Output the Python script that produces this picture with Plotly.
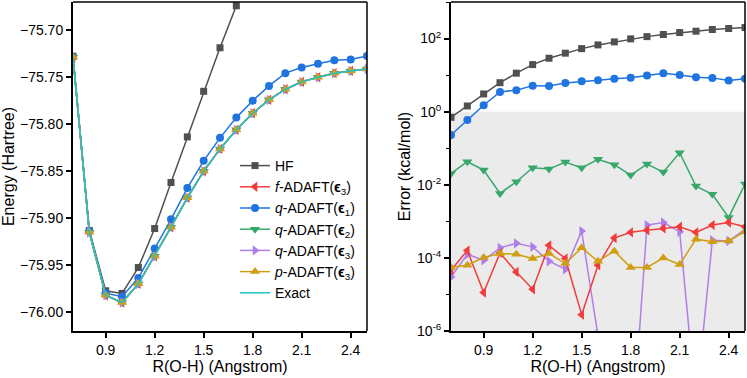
import plotly.graph_objects as go

# ---------------- data ----------------
R = [0.7, 0.8, 0.9, 1.0, 1.1, 1.2, 1.3, 1.4, 1.5, 1.6, 1.7, 1.8, 1.9, 2.0, 2.1, 2.2, 2.3, 2.4, 2.5]
R_hf = [0.7, 0.8, 0.9, 1.0, 1.1, 1.2, 1.3, 1.4, 1.5, 1.6, 1.7]

# Energies (Hartree), left panel
E_hf = [-75.7278, -75.9130, -75.9772, -75.9800, -75.9525, -75.9110, -75.8620, -75.8135, -75.7650, -75.7187, -75.6740]
E_f3 = [-75.7287, -75.9150, -75.9820, -75.9898, -75.9698, -75.9404, -75.9096, -75.8783, -75.8500, -75.8263,
        -75.8060, -75.7883, -75.7741, -75.7628, -75.7550, -75.7500, -75.7457, -75.7433, -75.7412]
E_q1 = [-75.7283, -75.9140, -75.9797, -75.9835, -75.9636, -75.9322, -75.9012, -75.8680, -75.8390, -75.8145,
        -75.7930, -75.7750, -75.7593, -75.7457, -75.7397, -75.7357, -75.7320, -75.7312, -75.7275]
E_q2 = [-75.7287, -75.9150, -75.9820, -75.9898, -75.9698, -75.9404, -75.9096, -75.8783, -75.8500, -75.8263,
        -75.8060, -75.7883, -75.7741, -75.7628, -75.7550, -75.7500, -75.7457, -75.7433, -75.7412]
E_q3 = [-75.7287, -75.9150, -75.9820, -75.9898, -75.9698, -75.9404, -75.9096, -75.8783, -75.8500, -75.8263,
        -75.8060, -75.7883, -75.7741, -75.7628, -75.7550, -75.7500, -75.7457, -75.7433, -75.7412]
E_p3 = [-75.7287, -75.9150, -75.9820, -75.9898, -75.9698, -75.9404, -75.9096, -75.8783, -75.8500, -75.8263,
        -75.8060, -75.7883, -75.7741, -75.7628, -75.7550, -75.7500, -75.7457, -75.7433, -75.7412]
E_exact = [-75.7287, -75.9150, -75.9820, -75.9898, -75.9698, -75.9404, -75.9096, -75.8783, -75.8500, -75.8263,
           -75.8060, -75.7883, -75.7741, -75.7628, -75.7550, -75.7500, -75.7457, -75.7433, -75.7412]

# Errors (kcal/mol), right panel
err_hf = [0.70, 1.43, 3.05, 6.2, 11.3, 19.4, 29.0, 39.8, 53.0, 67.0, 81.0, 98.0, 113.0, 129.0, 146.0, 159.0, 177.0, 188.0, 200.0]
err_q1 = [0.23, 0.59, 1.5, 3.47, 3.86, 5.15, 5.06, 6.1, 6.8, 7.25, 7.9, 8.5, 9.7, 11.3, 10.1, 8.7, 8.4, 7.1, 8.0]
err_q2 = [0.0205, 0.0427, 0.0253, 0.0058, 0.0121, 0.0292, 0.0269, 0.042, 0.029, 0.0497, 0.0354, 0.0184, 0.0369,
          0.0223, 0.075, 0.0092, 0.0055, 0.00128, 0.0105]
err_f3 = [4.6e-5, 1.6e-4, 1.13e-5, 1.37e-4, 4.1e-5, 1.39e-5, 2.2e-4, 9.6e-5, 2.8e-6, 6.3e-5, 3.5e-4, 5.0e-4,
          5.7e-4, 6.4e-4, 7.1e-4, 5.0e-4, 7.9e-4, 9.3e-4, 7.1e-4]
err_q3 = [3.0e-5, 1.26e-4, 8.6e-5, 1.88e-4, 2.5e-4, 2.0e-4, 8.1e-5, 4.9e-5, 5.4e-4, 8.0e-7, 1.0e-9, 4.0e-10,
          7.9e-4, 9.3e-4, 5.2e-4, 1.0e-8, 3.05e-4, 2.9e-4, 6.0e-4]
err_p3 = [5.5e-5, 6.3e-5, 1.02e-4, 1.32e-4, 1.26e-4, 9.6e-5, 1.32e-4, 7.0e-5, 1.88e-4, 8.1e-5, 1.53e-4, 5.5e-5,
          5.5e-5, 1.0e-4, 6.6e-5, 3.25e-4, 2.75e-4, 2.9e-4, 5.2e-4]

x_ticks = [0.9, 1.2, 1.5, 1.8, 2.1, 2.4]
e_ticks = [-75.70, -75.75, -75.80, -75.85, -75.90, -75.95, -76.00]
err_tickvals = [1e2, 1e0, 1e-2, 1e-4, 1e-6]
err_ticktext = ["10<sup>2</sup>", "10<sup>0</sup>", "10<sup>-2</sup>", "10<sup>-4</sup>", "10<sup>-6</sup>"]
err_minor = [1e3, 1e1, 1e-1, 1e-3, 1e-5]

names = ["HF", "<i>f</i>-ADAFT(<b>ϵ</b><sub>3</sub>)", "<i>q</i>-ADAFT(<b>ϵ</b><sub>1</sub>)",
         "<i>q</i>-ADAFT(<b>ϵ</b><sub>2</sub>)", "<i>q</i>-ADAFT(<b>ϵ</b><sub>3</sub>)",
         "<i>p</i>-ADAFT(<b>ϵ</b><sub>3</sub>)", "Exact"]

# ---------------- styles ----------------
C_HF = "#505050"
C_F3 = "#f23c3c"
C_Q1 = "#1f74e0"
C_Q2 = "#37a86a"
C_Q3 = "#b07ee8"
C_P3 = "#d09e12"
C_EX = "#1ec4c8"
FONT = "Liberation Sans, Arial, sans-serif"

fig = go.Figure()

def add(x, y, name, color, symbol, size, xa, ya, show, group, mode="lines+markers"):
    fig.add_trace(go.Scatter(
        x=x, y=y, name=name, mode=mode, xaxis=xa, yaxis=ya, showlegend=show,
        legendgroup=group, cliponaxis=True,
        line=dict(color=color, width=1.5),
        marker=dict(symbol=symbol, size=size, color=color, line=dict(width=0)),
    ))

# left panel
add(R_hf, E_hf, names[0], C_HF, "square", 7, "x", "y", True, "g0")
add(R, E_f3, names[1], C_F3, "triangle-left", 9, "x", "y", True, "g1")
add(R, E_q1, names[2], C_Q1, "circle", 8, "x", "y", True, "g2")
add(R, E_q2, names[3], C_Q2, "triangle-down", 9, "x", "y", True, "g3")
add(R, E_q3, names[4], C_Q3, "triangle-right", 9, "x", "y", True, "g4")
add(R, E_p3, names[5], C_P3, "triangle-up", 9, "x", "y", True, "g5")
add(R, E_exact, names[6], C_EX, "circle", 1, "x", "y", True, "g6", mode="lines")

# right panel
add(R, err_hf, names[0], C_HF, "square", 7, "x2", "y2", False, "g0")
add(R, err_q1, names[2], C_Q1, "circle", 8, "x2", "y2", False, "g2")
add(R, err_q2, names[3], C_Q2, "triangle-down", 9, "x2", "y2", False, "g3")
add(R, err_q3, names[4], C_Q3, "triangle-right", 9, "x2", "y2", False, "g4")
add(R, err_f3, names[1], C_F3, "triangle-left", 9, "x2", "y2", False, "g1")
add(R, err_p3, names[5], C_P3, "triangle-up", 9, "x2", "y2", False, "g5")

axis_common = dict(
    showline=True, linecolor="black", linewidth=2, mirror=False, automargin=False,
    ticks="outside", ticklen=5, tickwidth=1.5, tickcolor="black",
    showgrid=False, zeroline=False,
    tickfont=dict(family=FONT, size=14, color="black"),
)
title_font = dict(family=FONT, size=16, color="black")

Y0, Y1 = 1 - 331 / 378, 1 - 2 / 378

fig.update_layout(
    width=747, height=378,
    margin=dict(l=0, r=0, t=0, b=0),
    paper_bgcolor="white", plot_bgcolor="rgba(0,0,0,0)",
    font=dict(family=FONT, size=14, color="black"),
    xaxis=dict(domain=[73 / 747, 367 / 747], range=[0.7, 2.5], tickvals=x_ticks, tickformat=".1f",
               title=dict(text="R(O-H) (Angstrom)", font=title_font, standoff=3), anchor="y", **axis_common),
    yaxis=dict(domain=[Y0, Y1], range=[-76.02, -75.67], tickvals=e_ticks, tickformat=".2f",
               title=dict(text="Energy (Hartree)", font=title_font, standoff=4), anchor="x", **axis_common),
    xaxis2=dict(domain=[451 / 747, 745 / 747], range=[0.7, 2.5], tickvals=x_ticks, tickformat=".1f",
                title=dict(text="R(O-H) (Angstrom)", font=title_font, standoff=3), anchor="y2", **axis_common),
    yaxis2=dict(domain=[Y0, Y1], type="log", range=[-6, 3], tickvals=err_tickvals, ticktext=err_ticktext,
                minor=dict(tickvals=err_minor, ticks="outside", ticklen=3, tickwidth=1, tickcolor="black"),
                title=dict(text="Error (kcal/mol)", font=title_font, standoff=2), anchor="x2", **axis_common),
    legend=dict(x=235 / 747, y=1 - 150 / 378, xanchor="left", yanchor="top",
                bgcolor="rgba(0,0,0,0)", borderwidth=0, traceorder="normal",
                font=dict(family=FONT, size=14, color="black")),
    shapes=[
        # shaded band in the error panel (below 1 kcal/mol)
        dict(type="rect", xref="x2 domain", yref="y2", x0=0, x1=1, y0=1e-6, y1=1,
             fillcolor="#ebebeb", line=dict(width=0), layer="below"),
        # top / right frame lines
        dict(type="line", xref="x domain", yref="y domain", x0=0, x1=1, y0=1, y1=1, line=dict(color="black", width=1.5)),
        dict(type="line", xref="x domain", yref="y domain", x0=1, x1=1, y0=0, y1=1, line=dict(color="black", width=1.5)),
        dict(type="line", xref="x2 domain", yref="y2 domain", x0=0, x1=1, y0=1, y1=1, line=dict(color="black", width=1.5)),
        dict(type="line", xref="x2 domain", yref="y2 domain", x0=1, x1=1, y0=0, y1=1, line=dict(color="black", width=1.5)),
    ],
)

fig.write_html("out.html", config={"displayModeBar": False},
               post_script="document.body.style.margin='0';document.body.style.overflow='hidden';")
